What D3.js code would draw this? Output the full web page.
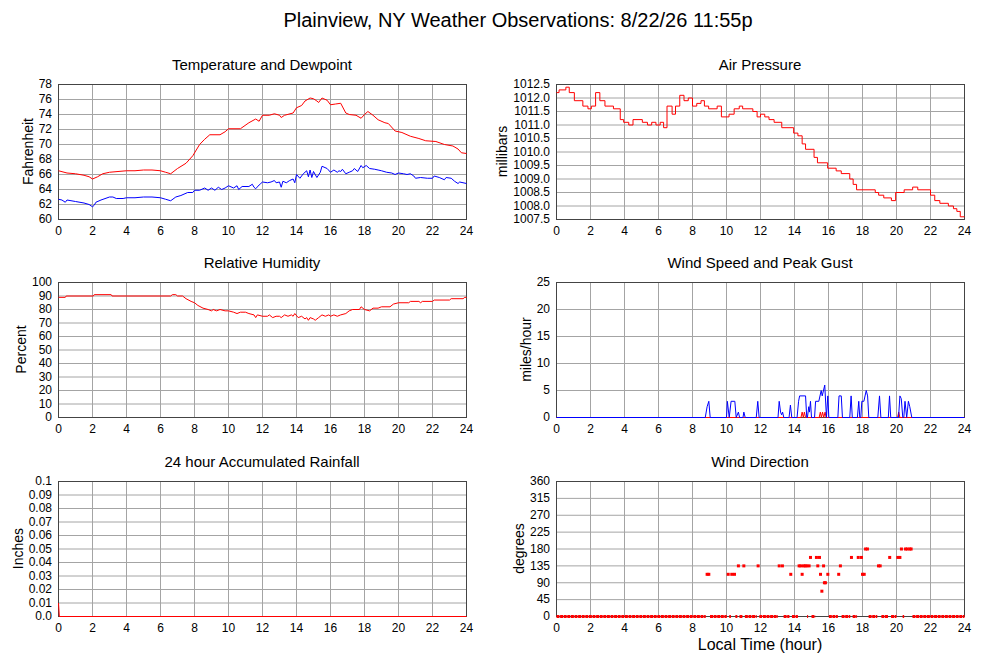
<!DOCTYPE html>
<html>
<head>
<meta charset="utf-8">
<script src="https://cdn.jsdelivr.net/npm/d3@7"></script>
<style>
body { margin: 0; background: #fff; }
svg { display: block; font-family: "Liberation Sans", Arial, Helvetica, sans-serif; }
</style>
</head>
<body>
<svg id="chart" width="1000" height="660"></svg>
<script>
// x axis, shared by all panels
const hourTicks = [0, 2, 4, 6, 8, 10, 12, 14, 16, 18, 20, 22, 24];

// y ticks and labels per panel
const tempTicks = [60, 62, 64, 66, 68, 70, 72, 74, 76, 78];
const pressTicks = [1007.5, 1008, 1008.5, 1009, 1009.5, 1010, 1010.5, 1011, 1011.5, 1012, 1012.5];
const pressLabels = ["1007.5", "1008.0", "1008.5", "1009.0", "1009.5", "1010.0", "1010.5", "1011.0", "1011.5", "1012.0", "1012.5"];
const rhTicks = [0, 10, 20, 30, 40, 50, 60, 70, 80, 90, 100];
const windTicks = [0, 5, 10, 15, 20, 25];
const rainTicks = [0, 0.01, 0.02, 0.03, 0.04, 0.05, 0.06, 0.07, 0.08, 0.09, 0.1];
const rainLabels = ["0.0", "0.01", "0.02", "0.03", "0.04", "0.05", "0.06", "0.07", "0.08", "0.09", "0.1"];
const dirTicks = [0, 45, 90, 135, 180, 225, 270, 315, 360];

// [hour, value]
const tempData = [[0,66.5],[0.5,66.2],[1,66.1],[1.5,65.9],[1.8,65.7],[2,65.4],[2.3,65.7],[2.6,66.1],[3,66.3],[3.5,66.4],
  [4,66.5],[4.5,66.5],[5,66.6],[5.5,66.6],[6,66.5],[6.3,66.3],[6.6,66.1],[7,66.8],[7.5,67.5],[7.9,68.5],[8.3,70.0],
  [8.6,70.7],[8.9,71.3],[9.5,71.3],[9.8,71.7],[10,72.1],[10.7,72.1],[11.2,72.9],[11.6,73.4],[11.8,73.1],[12,73.9],
  [12.4,73.9],[12.7,74.1],[13,73.9],[13.1,73.6],[13.3,73.9],[13.8,74.2],[14,74.9],[14.3,75.2],[14.5,75.8],[14.8,76.2],
  [15,76.1],[15.2,75.8],[15.3,75.6],[15.5,76.2],[15.8,75.9],[16,75.3],[16.3,75.4],[16.6,75.5],[16.9,74.2],[17.1,74.0],
  [17.5,73.9],[17.8,73.5],[18,74.0],[18.2,74.4],[18.5,73.9],[18.8,73.3],[19.2,72.9],[19.4,72.8],[19.8,71.8],[20.2,71.6],
  [20.7,71.1],[21.2,70.8],[21.6,70.5],[22.2,70.4],[22.7,70.0],[23.2,69.8],[23.5,69.4],[23.7,68.9],[24,68.8]];

const dewData = [[0,62.7],[0.2,62.6],[0.4,62.3],[0.5,62.6],[1,62.4],[1.5,62.2],[1.8,62.0],[2,61.7],[2.1,61.9],[2.2,62.3],
  [2.5,62.6],[3,63.0],[3.2,63.0],[3.4,62.8],[3.8,62.8],[4,62.9],[4.5,62.9],[5,63.0],[5.5,63.0],[6,62.9],[6.3,62.7],
  [6.6,62.5],[6.9,63.0],[7.2,63.2],[7.6,63.6],[7.9,63.6],[8,63.9],[8.3,63.9],[8.6,64.2],[8.8,63.9],[9,64.2],[9.2,63.9],
  [9.4,64.3],[9.6,64.0],[9.8,64.2],[10,64.5],[10.3,64.2],[10.5,64.5],[10.6,64.0],[10.8,64.4],[11.2,64.4],[11.4,64.7],
  [11.5,64.3],[11.6,64.1],[11.8,64.6],[11.9,64.8],[12,65.0],[12.3,64.9],[12.5,65.0],[12.7,65.2],[12.8,64.9],[13,65.0],
  [13.1,64.3],[13.2,65.1],[13.4,64.9],[13.6,65.2],[13.8,65.4],[13.9,64.9],[14,66.0],[14.2,65.5],[14.4,66.1],[14.6,66.5],
  [14.7,65.7],[14.8,66.6],[14.9,65.6],[15,66.4],[15.2,65.6],[15.4,66.3],[15.5,67.1],[15.8,66.8],[16,66.3],[16.2,66.6],
  [16.4,66.3],[16.5,66.5],[16.6,66.4],[16.7,66.7],[16.9,66.1],[17.1,66.3],[17.3,66.5],[17.4,66.8],[17.6,66.4],[17.8,67.2],
  [17.9,66.9],[18.1,67.2],[18.3,66.8],[18.6,66.7],[18.8,66.6],[19,66.5],[19.3,66.3],[19.6,66.2],[19.8,66.0],[20,66.2],
  [20.3,66.1],[20.5,66.0],[20.7,66.1],[20.9,65.8],[21,65.5],[21.3,65.6],[21.7,65.5],[22,65.5],[22.1,65.8],[22.4,65.6],
  [22.7,65.3],[22.8,65.6],[23.1,65.5],[23.3,65.1],[23.5,64.8],[23.6,65.0],[24,64.8]];

// pressure readings change in steps: [hour the value starts, millibars]
const pressData = [[0,1012.2],[0.15,1012.3],[0.55,1012.4],[0.75,1012.2],[1.05,1011.9],[1.55,1011.7],[1.85,1011.6],
  [2.05,1011.7],[2.3,1012.2],[2.55,1011.9],[2.85,1011.7],[3.35,1011.6],[3.75,1011.2],[3.95,1011.1],[4.25,1011.0],
  [4.5,1011.2],[5.05,1011.1],[5.35,1011.0],[5.6,1011.1],[5.85,1011.0],[6.1,1011.1],[6.3,1010.9],[6.5,1011.7],
  [6.8,1011.4],[7.0,1011.7],[7.25,1012.1],[7.5,1011.9],[7.75,1012.0],[8.0,1011.7],[8.25,1011.8],[8.5,1011.9],
  [8.7,1011.7],[8.95,1011.6],[9.45,1011.7],[9.7,1011.3],[10.15,1011.4],[10.45,1011.6],[10.75,1011.7],[10.95,1011.6],
  [11.55,1011.5],[11.8,1011.3],[12.0,1011.4],[12.25,1011.3],[12.5,1011.2],[12.8,1011.1],[13.25,1010.9],[13.95,1010.7],
  [14.2,1010.6],[14.45,1010.3],[14.65,1010.1],[15.15,1009.8],[15.35,1009.6],[15.95,1009.4],[16.45,1009.3],
  [16.75,1009.2],[17.25,1009.0],[17.45,1008.8],[17.65,1008.6],[18.75,1008.5],[18.95,1008.4],[19.25,1008.3],
  [19.7,1008.2],[19.95,1008.5],[20.45,1008.6],[20.95,1008.7],[21.25,1008.6],[22.0,1008.4],[22.25,1008.2],
  [22.55,1008.1],[23.05,1008.0],[23.35,1007.9],[23.55,1007.8],[23.75,1007.6],[24,1007.6]];

const rhData = [[0,89],[0.4,89],[0.45,90],[2.05,90],[2.1,91],[3.1,91],[3.15,90],[6.6,90],[6.7,91],[6.9,91],[7.0,90],
  [7.3,90],[7.5,88],[7.8,86],[8.0,85],[8.2,83],[8.5,81],[8.8,80],[9.0,79],[9.1,80],[9.3,79],[9.5,80],[9.8,79],
  [10.0,79],[10.3,78],[10.5,77],[10.7,78],[11.0,78],[11.2,77],[11.5,76],[11.6,74],[11.7,76],[12.0,75],[12.3,75],
  [12.4,76],[12.6,74],[12.8,75],[13.0,75],[13.1,74],[13.3,76],[13.5,75],[13.7,76],[13.8,75],[13.9,77],[14.1,74],
  [14.3,75],[14.5,73],[14.6,74],[14.7,72],[14.8,74],[15.0,73],[15.1,72],[15.3,74],[15.5,76],[15.7,75],[15.9,76],
  [16.0,75],[16.2,76],[16.4,75],[16.6,76],[16.9,77],[17.1,79],[17.3,80],[17.7,80],[17.8,82],[18.0,80],[18.3,79],
  [18.5,81],[18.8,81],[19.0,82],[19.5,82],[19.7,84],[20.0,85],[20.6,85],[20.7,86],[21.2,86],[21.3,85],[21.4,86],
  [22.0,86],[22.1,87],[23.0,87],[23.1,88],[23.8,88],[23.9,89],[24,89]];

const windData = [[0,0],[8.75,0],[8.86,2],[8.96,3],[9.04,0],[10.0,0],[10.05,3],[10.16,0],[10.27,3],[10.49,3],[10.57,0],
  [10.7,1],[10.77,0],[10.97,0],[11.02,1],[11.1,0],[11.75,0],[11.84,3],[11.92,0],[13.03,0],[13.1,3],[13.18,1],[13.24,0.5],
  [13.3,1],[13.37,0],[13.68,0],[13.76,2.3],[13.84,0],[14.15,0],[14.24,3],[14.3,4],[14.65,4],[14.72,0],[14.76,0],
  [14.84,2],[14.88,1],[14.94,3],[15.0,0],[15.18,0],[15.24,3],[15.43,3],[15.57,5],[15.63,4],[15.78,6],[15.88,0],
  [15.96,4],[16.02,0],[16.55,0],[16.62,4],[16.75,4],[16.82,0],[17.25,0],[17.33,4],[17.4,0],[17.7,0],[17.78,3],
  [17.84,0],[17.9,0],[17.96,3],[18.08,3],[18.22,5],[18.3,4],[18.37,0],[18.9,0],[19.0,4],[19.08,0],[19.52,0],
  [19.59,4],[19.66,0],[20.12,0],[20.2,4],[20.28,3.5],[20.37,0],[20.43,0],[20.5,3],[20.6,0],[20.7,3],[20.78,2],
  [20.9,0],[24,0]];

const gustData = [[0,0],[14.38,0],[14.45,1],[14.52,0],[14.58,1],[14.65,0],[15.45,0],[15.52,1],[15.58,0],[15.65,1],
  [15.72,0],[15.8,1],[15.86,0],[20.06,0],[20.13,1],[20.2,0],[24,0]];

const rainData = [[0,0.01],[0.05,0],[24,0]];

// non-calm wind direction readings [hour, degrees]
const dirData = [[8.86,112.5],[8.96,112.5],[10.1,112.5],[10.31,112.5],[10.47,112.5],[10.7,135],[11.02,135],[11.86,135],
  [13.1,135],[13.29,135],[13.78,112.5],[14.27,135],[14.37,135],[14.45,112.5],[14.53,135],[14.63,135],[14.72,135],
  [14.86,135],[14.94,157.5],[15.29,157.5],[15.37,135],[15.47,157.5],[15.53,112.5],[15.61,67.5],[15.71,135],[15.76,90],
  [15.82,90],[15.96,112.5],[16.6,112.5],[16.7,135],[17.35,157.5],[17.75,157.5],[17.94,157.5],[18.0,112.5],[18.1,112.5],
  [18.18,180],[18.29,180],[18.94,135],[19.04,135],[19.6,157.5],[20.08,157.5],[20.2,157.5],[20.29,180],[20.53,180],
  [20.63,180],[20.78,180],[20.86,180]];
// calm periods (direction reported as 0) [from hour, to hour]
const calmRanges = [[0,8.78],[9.03,10.02],[10.16,10.26],[10.52,10.64],[10.76,10.95],[11.08,11.78],[11.93,13.03],
  [13.36,13.7],[13.85,14.2],[14.74,14.8],[15.0,15.22],[16.02,16.55],[16.77,17.28],[17.42,17.68],[18.36,18.87],
  [19.11,19.52],[19.68,20.0],[20.36,20.45],[20.94,24]];

const plotW = 408, plotH = 135;
const svg = d3.select("#chart");

svg.append("text")
    .attr("x", 518)
    .attr("y", 27)
    .attr("text-anchor", "middle")
    .attr("font-size", 20)
    .text("Plainview, NY Weather Observations: 8/22/26 11:55p");

function panel(left, top, title, ylabel, domain, ticks, labels)
{
    const g = svg.append("g").attr("transform", `translate(${left},${top})`);
    const x = d3.scaleLinear().domain([0, 24]).range([0, plotW]);
    const y = d3.scaleLinear().domain(domain).range([plotH, 0]);

    g.append("rect")
        .attr("width", plotW)
        .attr("height", plotH)
        .attr("fill", "#fff");

    const xAxis = g.append("g")
        .attr("transform", `translate(0,${plotH})`)
        .call(d3.axisBottom(x).tickValues(hourTicks).tickSize(-plotH).tickPadding(7));

    const yAxis = g.append("g")
        .call(d3.axisLeft(y).tickValues(ticks).tickSize(-plotW).tickPadding(6)
            .tickFormat((d, i) => labels ? labels[i] : d));

    for (const a of [xAxis, yAxis]) {
        a.select(".domain").remove();
        a.selectAll(".tick line").attr("stroke", "#a4a4a4");
        a.selectAll(".tick text")
            .attr("fill", "#000")
            .attr("font-size", 12)
            .attr("font-family", "Liberation Sans, Arial, sans-serif");
    }

    g.append("text")
        .attr("x", plotW/2)
        .attr("y", -14.5)
        .attr("text-anchor", "middle")
        .attr("font-size", 15)
        .text(title);

    // y label sits just left of the widest tick label
    const bb = yAxis.node().getBBox();
    g.append("text")
        .attr("transform", `translate(${bb.x - 11},${plotH/2}) rotate(-90)`)
        .attr("text-anchor", "middle")
        .attr("dominant-baseline", "central")
        .attr("font-size", 14)
        .text(ylabel);

    g.append("rect")
        .attr("x", 0.5)
        .attr("y", 0.5)
        .attr("width", plotW)
        .attr("height", plotH)
        .attr("fill", "none")
        .attr("stroke", "#444");

    // data goes over the frame, on the same half-pixel grid as the ticks
    const data = g.append("g").attr("transform", "translate(0.5,0.5)");
    return {g: data, x, y};
}

function line(p, values, color, curve)
{
    p.g.append("path")
        .datum(values)
        .attr("fill", "none")
        .attr("stroke", color)
        .attr("stroke-width", 1)
        .attr("d", d3.line()
            .x(d => p.x(d[0]))
            .y(d => p.y(d[1]))
            .curve(curve || d3.curveLinear));
}

const temp = panel(58, 84, "Temperature and Dewpoint", "Fahrenheit", [60, 78], tempTicks);
line(temp, tempData, "#ff0000");
line(temp, dewData, "#0000ff");

const press = panel(556, 84, "Air Pressure", "millibars", [1007.5, 1012.5], pressTicks, pressLabels);
line(press, pressData, "#ff0000", d3.curveStepAfter);

const rh = panel(58, 282, "Relative Humidity", "Percent", [0, 100], rhTicks);
line(rh, rhData, "#ff0000");

const wind = panel(556, 282, "Wind Speed and Peak Gust", "miles/hour", [0, 25], windTicks);
line(wind, gustData, "#ff0000");
line(wind, windData, "#0000ff");

const rain = panel(58, 481, "24 hour Accumulated Rainfall", "Inches", [0, 0.1], rainTicks, rainLabels);
line(rain, rainData, "#ff0000");

const dir = panel(556, 481, "Wind Direction", "degrees", [0, 360], dirTicks);
dir.g.selectAll("line.calm")
    .data(calmRanges)
    .join("line")
    .attr("class", "calm")
    .attr("x1", d => dir.x(d[0]))
    .attr("x2", d => dir.x(d[1]))
    .attr("y1", dir.y(0))
    .attr("y2", dir.y(0))
    .attr("stroke", "#ff0000")
    .attr("stroke-width", 3)
    .attr("stroke-dasharray", "3,0.6");
dir.g.selectAll("rect.dot")
    .data(dirData)
    .join("rect")
    .attr("class", "dot")
    .attr("x", d => dir.x(d[0]) - 1.5)
    .attr("y", d => dir.y(d[1]) - 1.5)
    .attr("width", 3)
    .attr("height", 3)
    .attr("fill", "#ff0000");

svg.append("text")
    .attr("x", 556 + plotW/2)
    .attr("y", 650)
    .attr("text-anchor", "middle")
    .attr("font-size", 16)
    .text("Local Time (hour)");
</script>
</body>
</html>
